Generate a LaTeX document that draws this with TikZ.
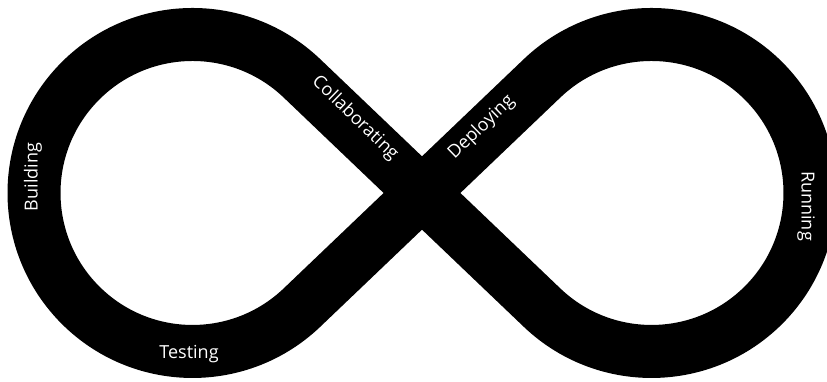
\documentclass[tikz,border=0pt]{standalone}
\usepackage{fontspec}
\setmainfont{Open Sans}
\begin{document}
\begin{tikzpicture}[x=1pt,y=1pt,
  band/.style={line width=53pt, draw=black},
  lbl/.style={text=white, font=\fontsize{18}{21}\selectfont, inner sep=0pt}]
\useasboundingbox (0,0) rectangle (827,382);
\clip (0,0) rectangle (827,382);
\coordinate (cross) at (422,189);
\coordinate (t1) at (302,303.6);
\coordinate (t3) at (542,303.6);
\draw[band] (t1) arc[start angle=46.3, end angle=313.7, radius=158.5]
  -- (cross) -- (t3) arc[start angle=133.7, end angle=-133.7, radius=158.5]
  -- (cross) -- cycle;
\node[lbl, rotate=90] (building) at (33,205) {Building};
\node[lbl] (testing) at (189,28) {Testing};
\node[lbl, rotate=-44] (collab) at (355,263.6) {Collaborating};
\node[lbl, rotate=44] (deploy) at (481.5,254.5) {Deploying};
\node[lbl, rotate=-90] (running) at (806,176) {Running};
\end{tikzpicture}
\end{document}
